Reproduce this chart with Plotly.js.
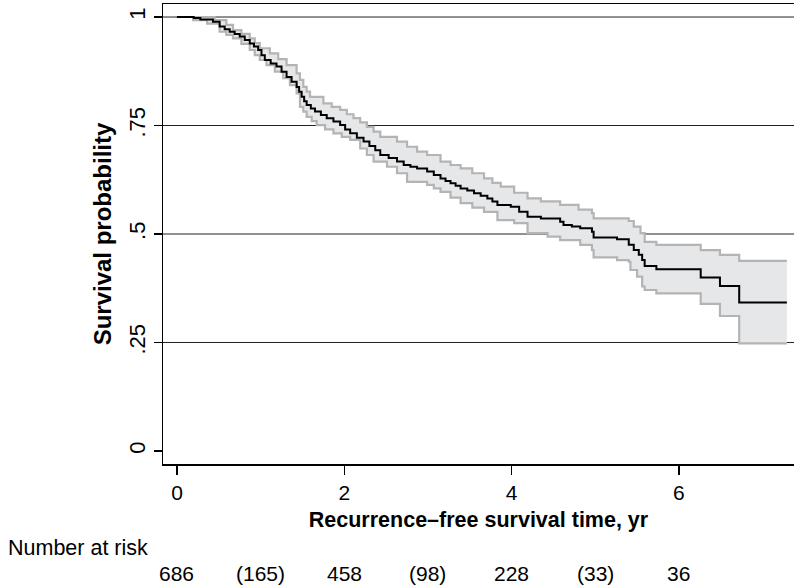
<!DOCTYPE html>
<html>
<head>
<meta charset="utf-8">
<script src="https://cdn.plot.ly/plotly-3.0.1.min.js"></script>
<style>html,body{margin:0;padding:0;background:#fff;}#chart{width:794px;height:586px;}</style>
</head>
<body>
<div id="chart"></div>
<script>
// Kaplan-Meier estimate (each value starts at its time)
var survT = [0, 0.20, 0.28, 0.43, 0.51, 0.57, 0.63, 0.69, 0.75, 0.81, 0.87, 0.92, 0.97, 1.01, 1.05, 1.12, 1.19, 1.25, 1.31, 1.37, 1.43, 1.46, 1.49, 1.52, 1.55, 1.60, 1.65, 1.72, 1.79, 1.87, 1.95, 2.01, 2.07, 2.15, 2.23, 2.30, 2.37, 2.43, 2.53, 2.63, 2.71, 2.79, 2.87, 2.99, 3.07, 3.15, 3.21, 3.27, 3.33, 3.39, 3.47, 3.55, 3.63, 3.71, 3.77, 3.83, 3.99, 4.09, 4.19, 4.35, 4.58, 4.62, 4.72, 4.82, 4.96, 4.98, 5.26, 5.40, 5.46, 5.52, 5.56, 5.59, 5.73, 6.26, 6.49, 6.72, 7.29];
var survS = [1.0, 0.998, 0.994, 0.989, 0.978, 0.972, 0.966, 0.961, 0.955, 0.947, 0.939, 0.932, 0.924, 0.912, 0.901, 0.893, 0.886, 0.874, 0.862, 0.851, 0.839, 0.828, 0.816, 0.806, 0.797, 0.789, 0.782, 0.774, 0.767, 0.759, 0.751, 0.741, 0.732, 0.722, 0.713, 0.703, 0.693, 0.682, 0.675, 0.667, 0.659, 0.655, 0.651, 0.644, 0.636, 0.628, 0.622, 0.617, 0.611, 0.605, 0.600, 0.594, 0.588, 0.582, 0.575, 0.567, 0.563, 0.551, 0.540, 0.536, 0.528, 0.521, 0.517, 0.513, 0.505, 0.492, 0.488, 0.475, 0.463, 0.452, 0.440, 0.426, 0.419, 0.400, 0.380, 0.342, 0.342];

// Upper confidence limit
var upT = [0.18, 0.45, 0.59, 0.67, 0.77, 0.87, 0.93, 0.99, 1.11, 1.21, 1.31, 1.43, 1.47, 1.51, 1.55, 1.59, 1.75, 1.85, 1.95, 2.03, 2.11, 2.19, 2.27, 2.35, 2.43, 2.63, 2.75, 2.87, 2.99, 3.15, 3.27, 3.39, 3.53, 3.67, 3.77, 3.87, 4.03, 4.19, 4.35, 4.58, 4.80, 4.96, 4.98, 5.40, 5.46, 5.54, 5.59, 5.73, 6.26, 6.49, 6.72, 7.29];
var upS = [1.0, 0.993, 0.982, 0.970, 0.961, 0.951, 0.940, 0.928, 0.916, 0.903, 0.889, 0.870, 0.855, 0.839, 0.828, 0.816, 0.801, 0.793, 0.786, 0.776, 0.767, 0.757, 0.747, 0.736, 0.724, 0.713, 0.701, 0.690, 0.682, 0.667, 0.659, 0.651, 0.640, 0.628, 0.618, 0.609, 0.595, 0.582, 0.575, 0.567, 0.556, 0.548, 0.536, 0.530, 0.517, 0.502, 0.482, 0.475, 0.463, 0.452, 0.438, 0.438];

// Lower confidence limit
var loT = [0.18, 0.36, 0.51, 0.59, 0.67, 0.77, 0.87, 0.93, 0.99, 1.07, 1.17, 1.27, 1.35, 1.43, 1.47, 1.51, 1.55, 1.61, 1.67, 1.77, 1.87, 1.97, 2.07, 2.19, 2.27, 2.35, 2.51, 2.63, 2.75, 2.99, 3.07, 3.15, 3.27, 3.39, 3.53, 3.67, 3.83, 4.03, 4.19, 4.43, 4.58, 4.82, 4.96, 4.98, 5.26, 5.40, 5.42, 5.50, 5.56, 5.59, 5.73, 6.26, 6.49, 6.72, 7.29];
var loS = [0.993, 0.985, 0.966, 0.959, 0.951, 0.938, 0.924, 0.912, 0.901, 0.889, 0.874, 0.859, 0.843, 0.824, 0.793, 0.782, 0.770, 0.760, 0.751, 0.741, 0.732, 0.724, 0.717, 0.697, 0.682, 0.667, 0.655, 0.640, 0.620, 0.613, 0.605, 0.597, 0.584, 0.571, 0.561, 0.551, 0.532, 0.525, 0.502, 0.494, 0.486, 0.475, 0.463, 0.446, 0.440, 0.436, 0.417, 0.402, 0.379, 0.371, 0.363, 0.339, 0.311, 0.248, 0.248];

var xTicks = [0, 2, 4, 6];
var yTicks = [0, 0.25, 0.5, 0.75, 1];
var yTickText = ['0', '.25', '.5', '.75', '1'];
var gridVals = [0.25, 0.5, 0.75, 1];

var riskTimes = [0, 1, 2, 3, 4, 5, 6];
var riskLabels = ['686', '(165)', '458', '(98)', '228', '(33)', '36'];

var FONT = 'Liberation Sans, Arial, Helvetica, sans-serif';

var traces = [
  {x: loT, y: loS, mode: 'lines', line: {shape: 'hv', color: '#b4b4b4', width: 2.2}, hoverinfo: 'skip', showlegend: false},
  {x: upT, y: upS, mode: 'lines', line: {shape: 'hv', color: '#b4b4b4', width: 2.2}, fill: 'tonexty', fillcolor: '#e6e7e9', hoverinfo: 'skip', showlegend: false},
  {x: survT, y: survS, mode: 'lines', line: {shape: 'hv', color: '#000000', width: 2}, showlegend: false}
];

var shapes = gridVals.map(function (v) {
  return {type: 'line', xref: 'paper', x0: 0, x1: 1, yref: 'y', y0: v, y1: v, layer: 'below', line: {color: '#222', width: 1}};
});

var annotations = [{
  text: 'Number at risk', xref: 'paper', yref: 'paper', x: -0.249, y: -0.183,
  xanchor: 'left', yanchor: 'middle', showarrow: false, font: {family: FONT, size: 21.5, color: '#000'}
}];
riskTimes.forEach(function (t, i) {
  annotations.push({text: riskLabels[i], xref: 'x', yref: 'paper', x: t, y: -0.237,
    xanchor: 'center', yanchor: 'middle', showarrow: false, font: {family: FONT, size: 21, color: '#000'}});
});

var layout = {
  width: 794, height: 586,
  margin: {l: 163, r: 0, t: 4, b: 122, pad: 0},
  paper_bgcolor: '#fff', plot_bgcolor: '#fff',
  font: {family: FONT, color: '#000', size: 21},
  xaxis: {
    range: [-0.167, 7.375], tickvals: xTicks, ticks: 'outside', ticklen: 9, tickwidth: 1.5, tickcolor: '#000',
    showline: true, linecolor: '#000', linewidth: 1.5, mirror: true, showgrid: false, zeroline: false,
    tickfont: {family: FONT, size: 21},
    title: {text: '<b>Recurrence\u2013free survival time, yr</b>', font: {family: FONT, size: 21.5}, standoff: 9}
  },
  yaxis: {
    range: [-0.03, 1.03], tickvals: yTicks, ticktext: yTickText, ticks: 'outside', ticklen: 8, tickwidth: 1.5, tickcolor: '#000',
    tickangle: -90, showline: true, linecolor: '#000', linewidth: 1.5, showgrid: false, zeroline: false,
    tickfont: {family: FONT, size: 22},
    title: {text: '<b>Survival probability</b>', font: {family: FONT, size: 24}, standoff: 6}
  },
  shapes: shapes,
  annotations: annotations
};

Plotly.newPlot('chart', traces, layout, {displayModeBar: false, staticPlot: true});
</script>
</body>
</html>
